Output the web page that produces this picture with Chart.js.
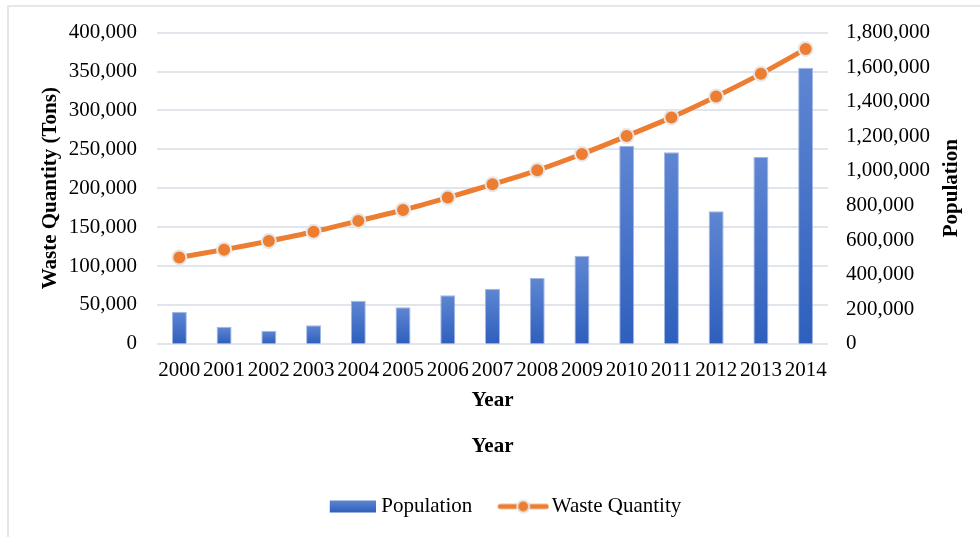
<!DOCTYPE html>
<html>
<head>
<meta charset="utf-8">
<script src="https://cdn.jsdelivr.net/npm/chart.js@4.4.1/dist/chart.umd.min.js"></script>
<style>
    html, body { margin: 0; padding: 0; background: #ffffff; }
    #wrap { position: relative; width: 980px; height: 537px; }
    #frame {
        position: absolute; left: 7px; top: 5px; right: -2px; bottom: -2px;
        border-left: 2px solid #e4e7ee; border-top: 2px solid #e4e7ee;
        pointer-events: none;
    }
</style>
</head>
<body>
<div id="wrap">
    <canvas id="chart" width="980" height="537"></canvas>
    <div id="frame"></div>
</div>
<script>
const YEARS = ["2000", "2001", "2002", "2003", "2004", "2005", "2006", "2007",
    "2008", "2009", "2010", "2011", "2012", "2013", "2014"];

// population
const POPULATION = [185000, 98000, 75000, 108000, 249000, 212000, 281000, 318000,
    380000, 509000, 1145000, 1108000, 767000, 1081000, 1596000];

// waste quantity in tons
const WASTE = [111000, 121000, 132000, 144000, 158000, 172000, 188000, 205000,
    223000, 244000, 267000, 291000, 318000, 347000, 379000];

const WASTE_MAX = 400000;
const WASTE_STEP = 50000;
const POP_MAX = 1800000;
const POP_STEP = 200000;

const FONT = "'Liberation Serif', 'Times New Roman', serif";
const ORANGE = "#ed7d31";
const BAR_TOP = "#5f86d2";
const BAR_BOTTOM = "#2e5fbd";
const GRID = "#e1e5ec";

const numberFormat = new Intl.NumberFormat("en-US");

function barGradient(context) {
    const chart = context.chart;
    const area = chart.chartArea;
    if (!area || context.type !== "data") {
        return BAR_BOTTOM;
    }
    const top = chart.scales.y1.getPixelForValue(context.raw);
    const gradient = chart.ctx.createLinearGradient(0, top, 0, area.bottom);
    gradient.addColorStop(0, BAR_TOP);
    gradient.addColorStop(1, BAR_BOTTOM);
    return gradient;
}

function makeBarIcon() {
    const canvas = document.createElement("canvas");
    canvas.width = 56;
    canvas.height = 14;
    const ctx = canvas.getContext("2d");
    const gradient = ctx.createLinearGradient(0, 1, 0, 13);
    gradient.addColorStop(0, BAR_TOP);
    gradient.addColorStop(1, BAR_BOTTOM);
    ctx.fillStyle = gradient;
    ctx.fillRect(10, 1, 46, 12);
    return canvas;
}

function makeLineIcon() {
    const canvas = document.createElement("canvas");
    canvas.width = 62;
    canvas.height = 18;
    const ctx = canvas.getContext("2d");
    ctx.strokeStyle = ORANGE;
    ctx.lineWidth = 5;
    ctx.lineCap = "round";
    ctx.beginPath();
    ctx.moveTo(13, 9);
    ctx.lineTo(59, 9);
    ctx.stroke();
    ctx.beginPath();
    ctx.arc(36, 9, 6, 0, Math.PI * 2);
    ctx.fillStyle = ORANGE;
    ctx.fill();
    ctx.lineWidth = 2;
    ctx.strokeStyle = "#e6e6e6";
    ctx.stroke();
    return canvas;
}

const barIcon = makeBarIcon();
const lineIcon = makeLineIcon();

// right axis title reads bottom-to-top like the left one
const rightTitle = {
    id: "rightTitle",
    afterDraw(chart) {
        const scale = chart.scales.y1;
        const ctx = chart.ctx;
        ctx.save();
        ctx.translate(952, (scale.top + scale.bottom) / 2);
        ctx.rotate(-Math.PI / 2);
        ctx.font = `bold 21px ${FONT}`;
        ctx.fillStyle = "#000000";
        ctx.textAlign = "center";
        ctx.textBaseline = "middle";
        ctx.fillText("Population", 0, 0);
        ctx.restore();
    },
};

new Chart(document.getElementById("chart"), {
    data: {
        labels: YEARS,
        datasets: [
            {
                type: "line",
                label: "Waste Quantity",
                data: WASTE,
                yAxisID: "y",
                borderColor: ORANGE,
                borderWidth: 5,
                backgroundColor: ORANGE,
                pointRadius: 7,
                pointBorderWidth: 2,
                pointBorderColor: "#e6e6e6",
                pointBackgroundColor: ORANGE,
                tension: 0.2,
                order: 0,
            },
            {
                type: "bar",
                label: "Population",
                data: POPULATION,
                yAxisID: "y1",
                backgroundColor: barGradient,
                borderColor: "rgba(140, 168, 222, 0.8)",
                borderWidth: { top: 1, left: 1, right: 1, bottom: 0 },
                barPercentage: 0.335,
                categoryPercentage: 1,
                order: 1,
            },
        ],
    },
    plugins: [rightTitle],
    options: {
        responsive: false,
        animation: false,
        layout: { padding: { left: 26, right: 0, top: 32, bottom: 10 } },
        plugins: {
            tooltip: { enabled: false },
            title: {
                display: true,
                text: "Year",
                position: "bottom",
                fullSize: false,
                weight: 500,
                color: "#000000",
                font: { family: FONT, size: 21, weight: "bold" },
                padding: { top: 20, bottom: 14 },
            },
            legend: {
                position: "bottom",
                labels: {
                    usePointStyle: true,
                    pointStyleWidth: 46,
                    color: "#000000",
                    font: { family: FONT, size: 21 },
                    padding: 23,
                    generateLabels: () => [
                        { text: "Population", pointStyle: barIcon, datasetIndex: 1, lineWidth: 0 },
                        { text: "Waste Quantity", pointStyle: lineIcon, datasetIndex: 0, lineWidth: 0 },
                    ],
                },
            },
        },
        scales: {
            x: {
                offset: true,
                grid: { display: false, drawTicks: false },
                border: { display: false },
                ticks: {
                    color: "#000000",
                    font: { family: FONT, size: 21 },
                    padding: 14,
                    maxRotation: 0,
                    autoSkip: false,
                },
                title: {
                    display: true,
                    text: "Year",
                    color: "#000000",
                    font: { family: FONT, size: 21, weight: "bold" },
                    padding: { top: 0, bottom: 1 },
                },
                afterFit: (scale) => { scale.height = 70; },
            },
            y: {
                position: "left",
                min: 0,
                max: WASTE_MAX,
                grid: { color: GRID, lineWidth: 2, drawTicks: false },
                border: { display: false },
                ticks: {
                    stepSize: WASTE_STEP,
                    color: "#000000",
                    font: { family: FONT, size: 21 },
                    padding: 20,
                    callback: (value) => numberFormat.format(value),
                },
                title: {
                    display: true,
                    text: "Waste Quantity (Tons)",
                    color: "#000000",
                    font: { family: FONT, size: 21, weight: "bold" },
                    padding: { top: 12, bottom: 0 },
                },
                afterFit: (scale) => { scale.width = 131; },
            },
            y1: {
                position: "right",
                min: 0,
                max: POP_MAX,
                grid: { display: false, drawTicks: false },
                border: { display: false },
                ticks: {
                    stepSize: POP_STEP,
                    color: "#000000",
                    font: { family: FONT, size: 21 },
                    padding: 18,
                    callback: (value) => numberFormat.format(value),
                },
                title: { display: false },
                afterFit: (scale) => { scale.width = 152; },
            },
        },
    },
});
</script>
</body>
</html>
